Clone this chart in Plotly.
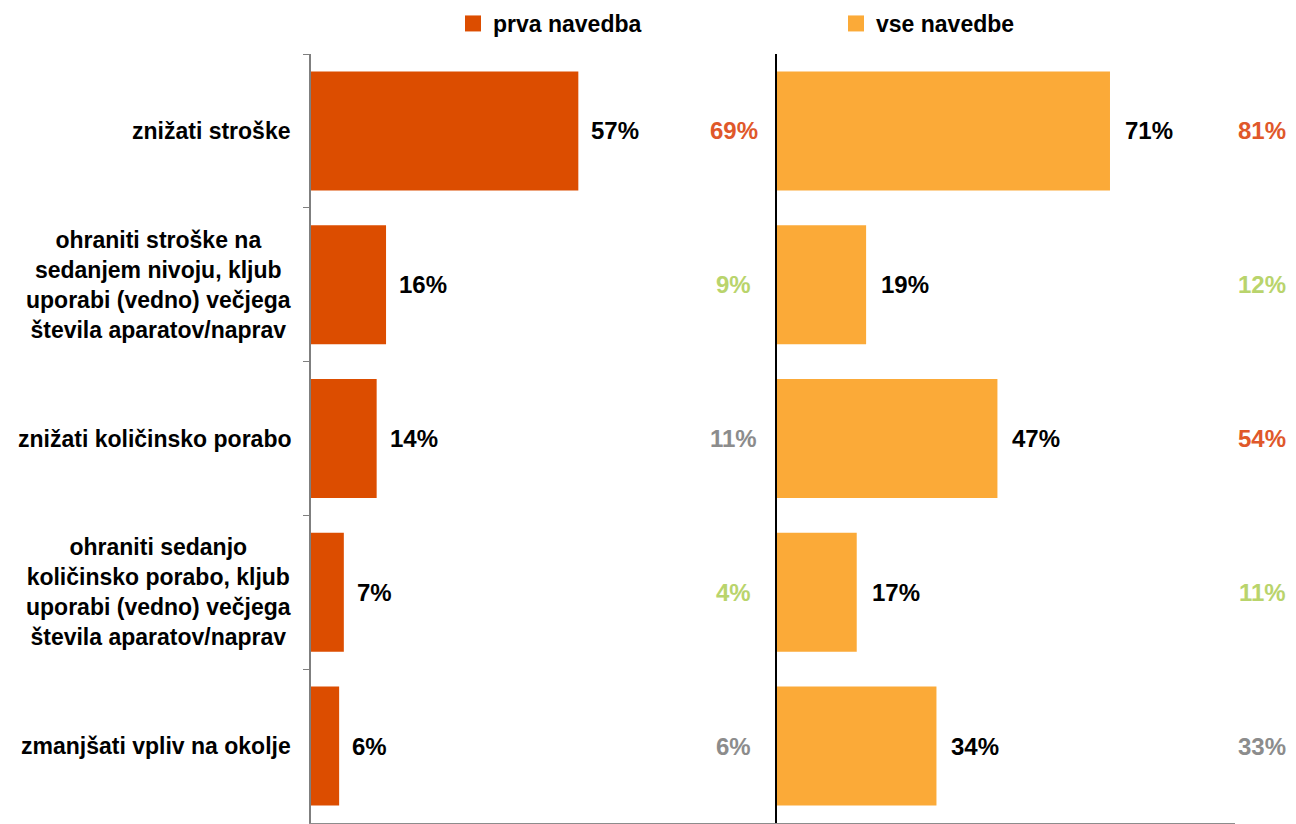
import plotly.graph_objects as go

categories = [
    "znižati stroške",
    "ohraniti stroške na<br>sedanjem nivoju, kljub<br>uporabi (vedno) večjega<br>števila aparatov/naprav",
    "znižati količinsko porabo",
    "ohraniti sedanjo<br>količinsko porabo, kljub<br>uporabi (vedno) večjega<br>števila aparatov/naprav",
    "zmanjšati vpliv na okolje",
]
prva_navedba = [57, 16, 14, 7, 6]
vse_navedbe = [71, 19, 47, 17, 34]
prva_compare = [69, 9, 11, 4, 6]
vse_compare = [81, 12, 54, 11, 33]
prva_compare_class = ["up", "down", "same", "down", "same"]
vse_compare_class = ["up", "down", "up", "down", "same"]
series_names = ["prva navedba", "vse navedbe"]

DARK_ORANGE = "#DC4D00"
LIGHT_ORANGE = "#FBAA38"
CLASS_COLORS = {"up": "#E0582A", "down": "#B9D46C", "same": "#8C8C8C"}
FONT = "Liberation Sans, Arial, sans-serif"

# figure is placed with an 8px page margin
W, H = 1288, 816
PX_PER_PCT = 4.69
left_px = (303, 768)
right_px = (769, 1227)

fig = go.Figure()
fig.add_trace(go.Bar(
    x=prva_navedba, y=categories, orientation="h", name=series_names[0],
    marker=dict(color=DARK_ORANGE, line=dict(width=0)),
    xaxis="x", yaxis="y", showlegend=False, hoverinfo="x+y",
))
fig.add_trace(go.Bar(
    x=vse_navedbe, y=categories, orientation="h", name=series_names[1],
    marker=dict(color=LIGHT_ORANGE, line=dict(width=0)),
    xaxis="x2", yaxis="y2", showlegend=False, hoverinfo="x+y",
))
# legend entries (square keys)
fig.add_trace(go.Scatter(
    x=[None], y=[None], mode="markers", name=series_names[0],
    marker=dict(symbol="square", size=16, color=DARK_ORANGE),
    xaxis="x", yaxis="y", legend="legend", hoverinfo="skip",
))
fig.add_trace(go.Scatter(
    x=[None], y=[None], mode="markers", name=series_names[1],
    marker=dict(symbol="square", size=16, color=LIGHT_ORANGE),
    xaxis="x2", yaxis="y2", legend="legend2", hoverinfo="skip",
))

annotations = []
for c in categories:
    annotations.append(dict(
        x=285 / W, xref="paper", y=c, yref="y", text=c, showarrow=False,
        xanchor="right", yanchor="middle", align="center",
        font=dict(family=FONT, size=23, color="black", weight="bold"),
    ))
for c, v in zip(categories, prva_navedba):
    annotations.append(dict(
        x=v, xref="x", y=c, yref="y", text=f"{v}%", showarrow=False,
        xanchor="left", yanchor="middle", xshift=11,
        font=dict(family=FONT, size=24, color="black", weight="bold"),
    ))
for c, v in zip(categories, vse_navedbe):
    annotations.append(dict(
        x=v, xref="x2", y=c, yref="y2", text=f"{v}%", showarrow=False,
        xanchor="left", yanchor="middle", xshift=13,
        font=dict(family=FONT, size=24, color="black", weight="bold"),
    ))
for c, v, k in zip(categories, prva_compare, prva_compare_class):
    annotations.append(dict(
        x=725.5 / W, xref="paper", y=c, yref="y", text=f"{v}%", showarrow=False,
        xanchor="center", yanchor="middle",
        font=dict(family=FONT, size=24, color=CLASS_COLORS[k], weight="bold"),
    ))
for c, v, k in zip(categories, vse_compare, vse_compare_class):
    annotations.append(dict(
        x=1254 / W, xref="paper", y=c, yref="y", text=f"{v}%", showarrow=False,
        xanchor="center", yanchor="middle",
        font=dict(family=FONT, size=24, color=CLASS_COLORS[k], weight="bold"),
    ))

ydom = [1 / H, 1 - 46 / H]
legend_font = dict(family=FONT, size=23, color="black", weight="bold")

fig.update_layout(
    width=W, height=H,
    margin=dict(l=0, r=0, t=0, b=0, autoexpand=False),
    paper_bgcolor="white", plot_bgcolor="white",
    bargap=0.226,
    font=dict(family=FONT, color="black"),
    xaxis=dict(
        domain=[left_px[0] / W, left_px[1] / W], range=[0, (left_px[1] - left_px[0]) / PX_PER_PCT],
        showgrid=False, zeroline=False, showticklabels=False, ticks="",
        showline=True, linecolor="#8C8C8C", linewidth=1, anchor="y", fixedrange=True,
    ),
    xaxis2=dict(
        domain=[right_px[0] / W, right_px[1] / W], range=[0, (right_px[1] - right_px[0]) / PX_PER_PCT],
        showgrid=False, zeroline=False, showticklabels=False, ticks="",
        showline=True, linecolor="#8C8C8C", linewidth=1, anchor="y2", fixedrange=True,
    ),
    yaxis=dict(
        domain=ydom, type="category", categoryorder="array", categoryarray=categories,
        autorange="reversed", showgrid=False, zeroline=False, showticklabels=False,
        ticks="outside", tickson="boundaries", ticklen=6, tickcolor="#7F7F7F", tickwidth=1,
        showline=True, linecolor="#7F7F7F", linewidth=2, anchor="x", fixedrange=True,
        automargin=False,
    ),
    yaxis2=dict(
        domain=ydom, type="category", categoryorder="array", categoryarray=categories,
        autorange="reversed", showgrid=False, zeroline=False, showticklabels=False,
        ticks="", showline=True, linecolor="black", linewidth=2, anchor="x2",
        fixedrange=True, automargin=False,
    ),
    legend=dict(
        x=445 / W, xanchor="left", y=1 + 6 / H, yanchor="top", orientation="h",
        font=legend_font, bgcolor="rgba(0,0,0,0)", borderwidth=0,
    ),
    legend2=dict(
        x=828 / W, xanchor="left", y=1 + 6 / H, yanchor="top", orientation="h",
        font=legend_font, bgcolor="rgba(0,0,0,0)", borderwidth=0,
    ),
    annotations=annotations,
    showlegend=True,
)

fig.write_html("out.html")
